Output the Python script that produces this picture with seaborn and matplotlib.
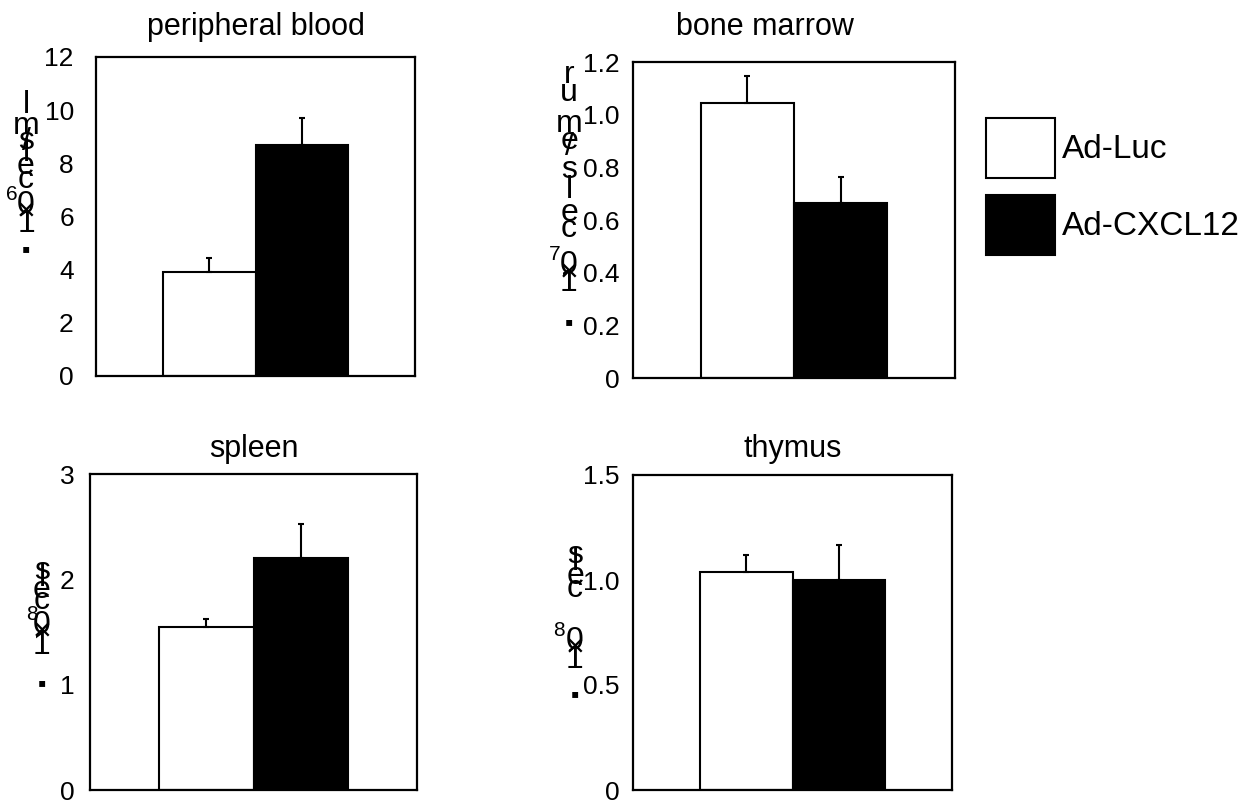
import numpy as np
import pandas as pd
import matplotlib
matplotlib.use("Agg")
import matplotlib.pyplot as plt
import seaborn as sns

# ---------------- data ----------------
groups = ["Ad-Luc", "Ad-CXCL12"]
titles = ["peripheral blood", "bone marrow", "spleen", "thymus"]

pb_mean = [3.93, 8.70]
pb_err = [0.50, 1.00]
bm_mean = [1.045, 0.665]
bm_err = [0.10, 0.10]
sp_mean = [1.55, 2.20]
sp_err = [0.07, 0.33]
th_mean = [1.04, 1.00]
th_err = [0.08, 0.165]

pb_ticks = [0, 2, 4, 6, 8, 10, 12]
pb_ticklabels = ["0", "2", "4", "6", "8", "10", "12"]
bm_ticks = [0, 0.2, 0.4, 0.6, 0.8, 1.0, 1.2]
bm_ticklabels = ["0", "0.2", "0.4", "0.6", "0.8", "1.0", "1.2"]
sp_ticks = [0, 1, 2, 3]
sp_ticklabels = ["0", "1", "2", "3"]
th_ticks = [0, 0.5, 1.0, 1.5]
th_ticklabels = ["0", "0.5", "1.0", "1.5"]

# garbled stacked y-axis label glyphs (top to bottom)
pb_label = ["l", "m", "/", "s", "l", "e", "c", "6", "0", "×", "1", "▪"]
bm_label = ["r", "u", "m", "e", "/", "s", "l", "e", "c", "7", "0", "×", "1", "▪"]
sp_label = ["s", "l", "e", "c", "8", "0", "×", "1", "▪"]
th_label = ["s", "l", "e", "c", "8", "0", "×", "1", "▪"]

# ---------------- style ----------------
sns.set_style("white")
plt.rcParams["font.family"] = ["Liberation Sans", "DejaVu Sans"]
plt.rcParams["text.color"] = "black"

W, H = 1259, 806
fig = plt.figure(figsize=(W / 100, H / 100), dpi=100)


def rect(l, t, r, b):
    return [l / W, 1 - b / H, (r - l) / W, (b - t) / H]


# layout (pixels): axes box, tick pad, title pad/position, label column
layout = [
    dict(box=(96, 57, 415, 376), tickpad=16, titlepad=16, titlex=0.5, lx=26,
         ly=[105, 126, 142, 141, 153, 166, 180, 195, 205, 212, 224, 250],
         sup=7, supx=12),
    dict(box=(633, 62, 955, 378), tickpad=9.4, titlepad=19.5, titlex=0.41, lx=569,
         ly=[75, 93, 124, 141, 147, 170, 190, 213, 229, 254, 265, 273, 283, 323],
         sup=9, supx=555),
    dict(box=(90, 474, 417, 790), tickpad=11, titlepad=12, titlex=0.5, lx=42,
         ly=[571, 578, 590, 601, 614, 625, 632, 646, 684],
         sup=4, supx=32),
    dict(box=(633, 475, 952, 790), tickpad=9.4, titlepad=13, titlex=0.5, lx=575,
         ly=[555, 562, 576, 589, 630, 641, 648, 660, 695],
         sup=4, supx=559),
]

means = [pb_mean, bm_mean, sp_mean, th_mean]
errs = [pb_err, bm_err, sp_err, th_err]
ticks = [pb_ticks, bm_ticks, sp_ticks, th_ticks]
ticklabels = [pb_ticklabels, bm_ticklabels, sp_ticklabels, th_ticklabels]
labels = [pb_label, bm_label, sp_label, th_label]

axes = []
for i, title in enumerate(titles):
    lay = layout[i]
    ax = fig.add_axes(rect(*lay["box"]))
    axes.append(ax)
    df = pd.DataFrame({"tissue": [title] * 2, "group": groups, "value": means[i]})
    sns.barplot(data=df, x="tissue", y="value", hue="group", hue_order=groups,
                palette=["white", "black"], saturation=1, edgecolor="black",
                linewidth=1.5, width=0.58, errorbar=None, legend=False, ax=ax)
    for cont, e in zip(ax.containers, errs[i]):
        bar = cont[0]
        xc = bar.get_x() + bar.get_width() / 2
        ax.errorbar(xc, bar.get_height(), yerr=[[0], [e]], fmt="none",
                    ecolor="black", elinewidth=1.5, capsize=2.5, capthick=1.5)
    ax.set_xlim(-0.5, 0.5)
    ax.set_ylim(ticks[i][0], ticks[i][-1])
    ax.set_yticks(ticks[i])
    ax.set_yticklabels(ticklabels[i])
    ax.set_xticks([])
    ax.set_xlabel("")
    ax.set_ylabel("")
    ax.tick_params(axis="y", length=0, pad=lay["tickpad"], labelsize=19,
                   labelcolor="black")
    for sp in ax.spines.values():
        sp.set_visible(True)
        sp.set_color("black")
        sp.set_linewidth(1.6)
    ax.set_title(title, fontsize=22, pad=lay["titlepad"], x=lay["titlex"],
                 color="black")

    # stacked glyph label
    for j, ch in enumerate(labels[i]):
        y = lay["ly"][j]
        if j == lay["sup"]:
            fig.text(lay["supx"] / W, 1 - y / H, ch, ha="center", va="center",
                     fontsize=15, color="black")
        elif ch == "▪":
            fig.text(lay["lx"] / W, 1 - y / H, ch, ha="center", va="center",
                     fontsize=17, color="black")
        else:
            fig.text(lay["lx"] / W, 1 - y / H, ch, ha="center", va="center",
                     fontsize=23, color="black")

# legend built from the bone-marrow bars
ax_bm = axes[1]
leg = fig.legend(handles=list(ax_bm.containers[:2]), labels=groups,
                 loc="upper left", bbox_to_anchor=(986 / W, 1 - 118 / H),
                 frameon=False, fontsize=24, handlelength=2.07, handleheight=2.4,
                 labelspacing=0.5, handletextpad=0.2, borderpad=0,
                 borderaxespad=0)
for t in leg.get_texts():
    t.set_color("black")

fig.savefig("out.png", dpi=100, facecolor="white")
